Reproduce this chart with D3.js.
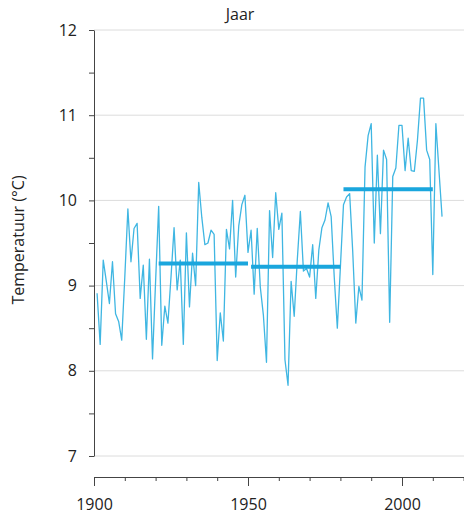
<!DOCTYPE html>
<html>
<head>
<meta charset="utf-8">
<script src="https://cdn.jsdelivr.net/npm/d3@7"></script>
<style>
  body { margin: 0; background: #fff; }
  text { font-family: "Open Sans", "Noto Sans", sans-serif; }
</style>
</head>
<body>
<script>
// jaargemiddelde temperatuur, 1901-2013
var years = d3.range(1901, 2014);
var temps = [
  8.91, 8.31, 9.30, 9.05, 8.79, 9.28, 8.67, 8.58, 8.36, 9.10,
  9.90, 9.28, 9.67, 9.73, 8.85, 9.24, 8.37, 9.31, 8.14, 9.05,
  9.93, 8.30, 8.76, 8.56, 9.10, 9.68, 8.95, 9.30, 8.31, 9.62,
  8.75, 9.38, 9.00, 10.21, 9.80, 9.48, 9.50, 9.65, 9.60, 8.12,
  8.68, 8.35, 9.66, 9.43, 10.00, 9.10, 9.70, 9.95, 10.06, 9.39,
  9.65, 8.90, 9.67, 8.98, 8.65, 8.10, 9.88, 9.33, 10.09, 9.66,
  9.85, 8.13, 7.83, 9.05, 8.64, 9.30, 9.87, 9.17, 9.20, 9.10,
  9.48, 8.85, 9.42, 9.68, 9.77, 9.97, 9.81, 9.10, 8.50, 9.22,
  9.95, 10.04, 10.08, 9.40, 8.56, 8.99, 8.83, 10.39, 10.76, 10.90,
  9.50, 10.53, 9.61, 10.59, 10.48, 8.57, 10.28, 10.38, 10.88, 10.88,
  10.35, 10.73, 10.35, 10.34, 10.70, 11.20, 11.20, 10.59, 10.48, 9.13,
  10.90, 10.35, 9.81
];
// 30-jarige gemiddelden
var periodStart = [1921, 1951, 1981];
var periodEnd = [1950, 1980, 2010];
var periodMean = [9.26, 9.22, 10.13];

var yTicks = [7, 7.5, 8, 8.5, 9, 9.5, 10, 10.5, 11, 11.5, 12];
var yGrid = [7, 8, 9, 10, 11, 12];
var xTicks = d3.range(1900, 2021, 10);
var xLabels = [1900, 1950, 2000];

var w = 464;
var h = 519;

var svg = d3.select("body")
    .append("svg")
    .attr("width", w)
    .attr("height", h);

var x = d3.scaleLinear().domain([1900, 2020]).range([94, 463.6]);
var y = d3.scaleLinear().domain([7, 12]).range([456, 30]);

// rasterlijnen
svg.selectAll("line.grid")
    .data(yGrid)
    .enter()
    .append("line")
    .attr("class", "grid")
    .attr("x1", x(1900))
    .attr("x2", w)
    .attr("y1", function(d) { return y(d); })
    .attr("y2", function(d) { return y(d); })
    .attr("stroke", "#dcdcdc")
    .attr("stroke-width", 1);

// y-as
var yAxis = svg.append("g")
    .attr("transform", "translate(" + x(1900) + ",0)")
    .call(d3.axisLeft(y)
        .tickValues(yTicks)
        .tickSize(5)
        .tickSizeOuter(0)
        .tickPadding(12)
        .tickFormat(function(d) { return Number.isInteger(d) ? d : ""; }));
yAxis.select(".domain").attr("stroke", "#444");
yAxis.selectAll(".tick line").attr("stroke", "#444");
yAxis.selectAll(".tick text")
    .attr("font-size", "16px")
    .attr("fill", "#222");

// x-as
var xAxis = svg.append("g")
    .attr("transform", "translate(0,477)")
    .call(d3.axisBottom(x)
        .tickValues(xTicks)
        .tickSize(4)
        .tickSizeOuter(0)
        .tickPadding(18)
        .tickFormat(function(d) { return xLabels.indexOf(d) >= 0 ? d : ""; }));
xAxis.select(".domain").attr("stroke", "#444");
xAxis.selectAll(".tick line")
    .attr("stroke", "#444")
    .attr("y2", function(d) { return xLabels.indexOf(d) >= 0 ? 9 : 4; });
xAxis.selectAll(".tick text")
    .attr("font-size", "16px")
    .attr("fill", "#222");

// temperatuurlijn
var line = d3.line()
    .x(function(d, i) { return x(years[i]); })
    .y(function(d) { return y(d); });

svg.append("path")
    .datum(temps)
    .attr("d", line)
    .attr("fill", "none")
    .attr("stroke", "#3fb6e2")
    .attr("stroke-width", 1.3)
    .attr("stroke-linejoin", "round");

// gemiddelden
svg.selectAll("line.mean")
    .data(periodMean)
    .enter()
    .append("line")
    .attr("class", "mean")
    .attr("x1", function(d, i) { return x(periodStart[i]); })
    .attr("x2", function(d, i) { return x(periodEnd[i]); })
    .attr("y1", function(d) { return y(d); })
    .attr("y2", function(d) { return y(d); })
    .attr("stroke", "#1aa6dd")
    .attr("stroke-width", 4);

// titels
svg.append("text")
    .text("Jaar")
    .attr("x", 240)
    .attr("y", 20)
    .attr("text-anchor", "middle")
    .attr("font-size", "16px")
    .attr("fill", "#222");

svg.append("text")
    .text("Temperatuur (°C)")
    .attr("transform", "translate(24,240) rotate(-90)")
    .attr("text-anchor", "middle")
    .attr("font-size", "16px")
    .attr("fill", "#222");
</script>
</body>
</html>
